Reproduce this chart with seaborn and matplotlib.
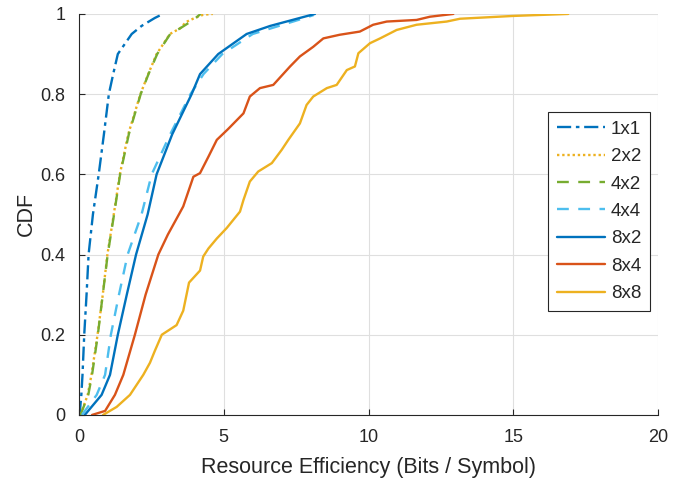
import matplotlib
matplotlib.use("Agg")
import matplotlib.pyplot as plt
import seaborn as sns
import pandas as pd

# ---- data: quantile points (x) at CDF levels (y) ----
x_1x1 = [0.02, 0.08, 0.12, 0.18, 0.26, 0.33, 0.48, 0.68, 0.86, 1.03, 1.18, 1.34, 1.82, 2.16, 2.62, 2.9]
y_1x1 = [0.0, 0.05, 0.1, 0.2, 0.3, 0.4, 0.5, 0.6, 0.7, 0.8, 0.85, 0.9, 0.95, 0.97, 0.99, 1.0]

x_2x2 = [0.05, 0.3, 0.43, 0.64, 0.82, 0.98, 1.2, 1.41, 1.70, 2.12, 2.39, 2.68, 3.14, 3.49, 3.7, 4.0, 4.29, 4.62]
y_2x2 = [0.0, 0.05, 0.1, 0.2, 0.3, 0.4, 0.5, 0.6, 0.7, 0.8, 0.85, 0.9, 0.95, 0.964, 0.98, 0.99, 0.998, 1.0]

x_4x2 = [0.05, 0.32, 0.45, 0.65, 0.82, 0.99, 1.21, 1.42, 1.72, 2.13, 2.40, 2.70, 3.15, 3.49, 3.95, 4.2]
y_4x2 = [0.0, 0.05, 0.1, 0.2, 0.3, 0.4, 0.5, 0.6, 0.7, 0.8, 0.85, 0.9, 0.95, 0.964, 0.985, 1.0]

x_4x4 = [0.1, 0.61, 0.9, 1.1, 1.38, 1.68, 2.16, 2.51, 3.15, 3.85, 4.3, 4.95, 6.0, 6.9, 7.8, 8.1]
y_4x4 = [0.0, 0.05, 0.1, 0.2, 0.3, 0.4, 0.5, 0.6, 0.7, 0.8, 0.85, 0.9, 0.95, 0.97, 0.99, 0.997]

x_8x2 = [0.2, 0.78, 1.07, 1.34, 1.65, 1.97, 2.37, 2.68, 3.22, 3.89, 4.18, 4.81, 5.79, 6.6, 7.63, 8.15]
y_8x2 = [0.0, 0.05, 0.1, 0.2, 0.3, 0.4, 0.5, 0.6, 0.7, 0.8, 0.85, 0.9, 0.95, 0.97, 0.99, 1.0]

x_8x4 = [0.45, 0.9, 1.24, 1.53, 1.93, 2.3, 2.74, 3.07, 3.45, 3.6, 3.95, 4.18, 4.47, 4.76, 5.15,
         5.68, 5.9, 6.25, 6.71, 7.29, 7.63, 8.09, 8.44, 9.0, 9.7, 10.16, 10.63, 11.66, 12.12, 12.93]
y_8x4 = [0.0, 0.01, 0.05, 0.1, 0.2, 0.3, 0.4, 0.45, 0.5, 0.52, 0.594, 0.603, 0.644, 0.686, 0.713,
         0.752, 0.794, 0.815, 0.823, 0.869, 0.894, 0.918, 0.939, 0.948, 0.956, 0.973, 0.981, 0.985, 0.993, 1.0]

x_8x8 = [0.83, 1.3, 1.76, 2.22, 2.45, 2.62, 2.86, 3.37, 3.6, 3.8, 4.18, 4.29, 4.47, 4.76, 5.1, 5.56,
         5.68, 5.9, 6.19, 6.66, 7.0, 7.23, 7.63, 7.86, 8.09, 8.56, 8.9, 9.25, 9.53, 9.65, 10.05,
         10.4, 10.97, 11.66, 12.7, 13.16, 15.0, 16.9]
y_8x8 = [0.0, 0.02, 0.05, 0.1, 0.13, 0.16, 0.2, 0.224, 0.26, 0.33, 0.36, 0.395, 0.415, 0.44, 0.466, 0.507,
         0.536, 0.582, 0.607, 0.628, 0.661, 0.686, 0.727, 0.773, 0.794, 0.815, 0.823, 0.86, 0.869, 0.902, 0.927,
         0.939, 0.96, 0.973, 0.981, 0.988, 0.995, 1.0]

labels = ["1x1", "2x2", "4x2", "4x4", "8x2", "8x4", "8x8"]
xs = [x_1x1, x_2x2, x_4x2, x_4x4, x_8x2, x_8x4, x_8x8]
ys = [y_1x1, y_2x2, y_4x2, y_4x4, y_8x2, y_8x4, y_8x8]

colors = ["#0072BD", "#EDB120", "#77AC30", "#4DBEEE", "#0072BD", "#D95319", "#EDB120"]
styles = [(0, (6, 2, 1.5, 2)), (0, (1, 1.2)), (0, (5, 4)), (0, (5, 4)), "-", "-", "-"]

sns.set_theme(style="whitegrid")
plt.rcParams["font.family"] = ["Liberation Sans", "DejaVu Sans"]

fig = plt.figure(figsize=(6.92, 4.87), dpi=100)
ax = fig.add_axes([0.1142, 0.148, 0.8367, 0.8234])

for lab, x, y, c, ls in zip(labels, xs, ys, colors, styles):
    df = pd.DataFrame({"x": x, "y": y})
    sns.lineplot(data=df, x="x", y="y", ax=ax, color=c, linestyle=ls,
                 linewidth=1.7, sort=False, estimator=None, label=lab)

ax.set_xlim(0, 20)
ax.set_ylim(0, 1)
ax.set_xticks([0, 5, 10, 15, 20])
ax.set_xticklabels(["0", "5", "10", "15", "20"])
ax.set_yticks([0, 0.2, 0.4, 0.6, 0.8, 1.0])
ax.set_yticklabels(["0", "0.2", "0.4", "0.6", "0.8", "1"])
ax.set_xlabel("Resource Efficiency (Bits / Symbol)", fontsize=15.5, color="#262626", labelpad=8)
ax.set_ylabel("CDF", fontsize=15.5, color="#262626", labelpad=2)
ax.tick_params(axis="both", direction="in", length=4, width=0.8, color="#262626",
               labelsize=13, labelcolor="#262626", pad=10, left=True, bottom=True)
ax.grid(True, color="#DFDFDF", linewidth=0.8)
ax.set_facecolor("white")
for s in ["top", "right"]:
    ax.spines[s].set_visible(False)
for s in ["left", "bottom"]:
    ax.spines[s].set_color("#262626")
    ax.spines[s].set_linewidth(0.8)

leg = ax.legend(loc="upper right", bbox_to_anchor=(0.986, 0.755), borderaxespad=0,
                fontsize=13.5, frameon=True, fancybox=False, edgecolor="#262626", framealpha=1,
                handlelength=2.6, handletextpad=0.3, borderpad=0.45, labelspacing=0.55)
leg.get_frame().set_linewidth(0.8)

fig.savefig("out.png", dpi=100)
